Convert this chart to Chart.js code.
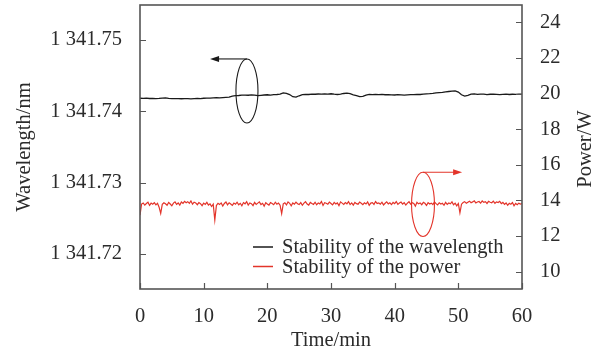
<!DOCTYPE html>
<html lang="en">
<head>
<meta charset="UTF-8">
<title>Stability of the wavelength and power</title>
<script src="https://cdn.jsdelivr.net/npm/chart.js"></script>
<style>
html, body {margin: 0; padding: 0; background: #fff;}
#wrap {width: 604px; height: 361px;}
</style>
</head>
<body>
<div id="wrap"><canvas id="chart" width="604" height="361"></canvas></div>
<script>
// --- data ---
const timeTicks = [0, 10, 20, 30, 40, 50, 60];
const wavelengthTicks = [1341.72, 1341.73, 1341.74, 1341.75];
const powerTicks = [10, 12, 14, 16, 18, 20, 22, 24];

// wavelength sampled every 0.5 min
const wavelengthStep = 0.5;
const wavelength = [
  1341.74183, 1341.74181, 1341.74184, 1341.74180, 1341.74182, 1341.74179, 1341.74181, 1341.74186, 1341.74188, 1341.74181,
  1341.74178, 1341.74177, 1341.74179, 1341.74176, 1341.74178, 1341.74177, 1341.74175, 1341.74178, 1341.74180, 1341.74179,
  1341.74183, 1341.74185, 1341.74184, 1341.74188, 1341.74190, 1341.74189, 1341.74193, 1341.74196, 1341.74199, 1341.74213,
  1341.74219, 1341.74222, 1341.74226, 1341.74228, 1341.74225, 1341.74230, 1341.74227, 1341.74219, 1341.74224, 1341.74229,
  1341.74232, 1341.74227, 1341.74233, 1341.74236, 1341.74240, 1341.74258, 1341.74252, 1341.74235, 1341.74205, 1341.74198,
  1341.74218, 1341.74234, 1341.74238, 1341.74236, 1341.74241, 1341.74239, 1341.74243, 1341.74240, 1341.74244, 1341.74242,
  1341.74246, 1341.74240, 1341.74236, 1341.74242, 1341.74250, 1341.74254, 1341.74248, 1341.74232, 1341.74220, 1341.74206,
  1341.74210, 1341.74228, 1341.74236, 1341.74233, 1341.74238, 1341.74234, 1341.74237, 1341.74232, 1341.74235, 1341.74231,
  1341.74229, 1341.74233, 1341.74230, 1341.74226, 1341.74231, 1341.74235, 1341.74233, 1341.74238, 1341.74236, 1341.74241,
  1341.74245, 1341.74248, 1341.74252, 1341.74258, 1341.74262, 1341.74266, 1341.74272, 1341.74278, 1341.74282, 1341.74286,
  1341.74270, 1341.74232, 1341.74214, 1341.74225, 1341.74240, 1341.74244, 1341.74238, 1341.74242, 1341.74240, 1341.74235,
  1341.74239, 1341.74241, 1341.74237, 1341.74233, 1341.74238, 1341.74241, 1341.74236, 1341.74239, 1341.74237, 1341.74242,
  1341.74240
];

// power sampled every 0.25 min
const powerStep = 0.25;
const power = [
  13.18, 13.80, 13.86, 13.74, 13.83, 13.90, 13.72, 13.85, 13.79, 13.88,
  13.75, 13.84, 13.62, 13.27, 13.78, 13.87, 13.81, 13.73, 13.89, 13.80,
  13.70, 13.85, 13.92, 13.78, 13.86, 13.74, 13.91, 13.83, 13.95, 13.87,
  13.93, 13.84, 13.97, 13.79, 13.90, 13.86, 13.76, 13.88, 13.82, 13.71,
  13.85, 13.78, 13.89, 13.74, 13.81, 13.66, 13.79, 12.90, 13.72, 13.84,
  13.77, 13.86, 13.69, 13.83, 13.91, 13.75, 13.87, 13.80, 13.72, 13.85,
  13.79, 13.90, 13.76, 13.84, 13.70, 13.88, 13.81, 13.93, 13.74, 13.86,
  13.82, 13.71, 13.89, 13.78, 13.85, 13.92, 13.77, 13.84, 13.68, 13.87,
  13.80, 13.74, 13.88, 13.83, 13.76, 13.90, 13.79, 13.85, 13.73, 13.26,
  13.81, 13.87, 13.75, 13.92, 13.84, 13.70, 13.86, 13.79, 13.91, 13.82,
  13.77, 13.88, 13.73, 13.85, 13.93, 13.80, 13.74, 13.89, 13.83, 13.78,
  13.90, 13.76, 13.86, 13.81, 13.94, 13.72, 13.87, 13.84, 13.79, 13.91,
  13.83, 13.75, 13.89, 13.80, 13.86, 13.71, 13.92, 13.85, 13.78, 13.88,
  13.81, 13.93, 13.77, 13.86, 13.74, 13.89, 13.82, 13.79, 13.91, 13.84,
  13.76, 13.87, 13.80, 13.92, 13.73, 13.85, 13.88, 13.78, 13.94, 13.83,
  13.86, 13.79, 13.90, 13.75, 13.84, 13.92, 13.81, 13.87, 13.77, 13.89,
  13.82, 13.94, 13.78, 13.86, 13.91, 13.80, 13.88, 13.74, 13.85, 13.93,
  13.79, 13.87, 13.83, 13.68, 13.90, 13.81, 13.86, 13.76, 13.89, 13.84,
  13.72, 13.88, 13.80, 13.85, 13.77, 13.91, 13.82, 13.75, 13.87, 13.80,
  13.84, 13.73, 13.89, 13.78, 13.86, 13.81, 13.92, 13.76, 13.85, 13.70,
  13.83, 13.31, 13.79, 13.88, 13.93, 13.84, 13.90, 13.96, 13.87, 13.92,
  13.98, 13.86, 13.91, 13.94, 13.85, 13.97, 13.89, 13.93, 13.83, 13.95,
  13.90, 13.87, 13.96, 13.84, 13.92, 13.88, 13.95, 13.82, 13.89, 13.78,
  13.86, 13.73, 13.84, 13.79, 13.88, 13.70, 13.83, 13.76, 13.85, 13.80,
  13.82
];

// ellipse + arrow annotations (data units)
const markers = [
  {axis: 'y',  t: 16.8,  v: 1341.74285, dt: 1.73, dv: 0.00449, arrowTo: 11.0, color: '#1a1a1a'},
  {axis: 'y1', t: 44.45, v: 13.78,      dt: 1.8,  dv: 1.8,     arrowTo: 50.6, color: '#e3342a'}
];

const black = '#1a1a1a';
const red = '#e3342a';
const frameColor = '#555';
const textColor = '#2b2b2b';
const fontFamily = '"Liberation Serif", "Times New Roman", serif';
const fontSize = 20.5;

Chart.defaults.font.family = fontFamily;
Chart.defaults.font.size = fontSize;
Chart.defaults.color = textColor;

function fmtWave(value) {
    const s = value.toFixed(2);
    return s[0] + ' ' + s.slice(1);
}

function noPad(s) {
    s.paddingTop = 0; s.paddingBottom = 0;
    s.paddingLeft = 0; s.paddingRight = 0;
}

const decor = {
    id: 'decor',
    afterDatasetsDraw(chart) {
        const {ctx, chartArea: a, scales} = chart;
        const x = scales.x, yl = scales.y, yr = scales.y1;
        ctx.save();

        // inner tick marks
        ctx.strokeStyle = frameColor;
        ctx.lineWidth = 1.2;
        ctx.beginPath();
        timeTicks.forEach(v => {
            const px = Math.round(x.getPixelForValue(v)) + 0.5;
            ctx.moveTo(px, a.bottom); ctx.lineTo(px, a.bottom - 6);
        });
        wavelengthTicks.forEach(v => {
            const py = Math.round(yl.getPixelForValue(v)) + 0.5;
            ctx.moveTo(a.left, py); ctx.lineTo(a.left + 6, py);
        });
        powerTicks.forEach(v => {
            const py = Math.round(yr.getPixelForValue(v)) + 0.5;
            ctx.moveTo(a.right, py); ctx.lineTo(a.right - 6, py);
        });
        ctx.stroke();

        // frame
        ctx.lineWidth = 1.6;
        ctx.strokeRect(a.left, a.top, a.right - a.left, a.bottom - a.top);

        // ellipses and arrows
        markers.forEach(m => {
            const sy = scales[m.axis];
            const cx = x.getPixelForValue(m.t), cy = sy.getPixelForValue(m.v);
            const rx = Math.abs(x.getPixelForValue(m.t + m.dt) - cx);
            const ry = Math.abs(sy.getPixelForValue(m.v + m.dv) - cy);
            ctx.strokeStyle = m.color;
            ctx.fillStyle = m.color;
            ctx.lineWidth = 1.1;
            ctx.beginPath();
            ctx.ellipse(cx, cy, rx, ry, 0, 0, Math.PI * 2);
            ctx.stroke();
            const tx = x.getPixelForValue(m.arrowTo), ty = cy - ry;
            const dir = Math.sign(tx - cx);
            ctx.beginPath();
            ctx.moveTo(cx, ty); ctx.lineTo(tx - dir * 6, ty);
            ctx.stroke();
            ctx.beginPath();
            ctx.moveTo(tx, ty);
            ctx.lineTo(tx - dir * 9, ty - 3);
            ctx.lineTo(tx - dir * 9, ty + 3);
            ctx.closePath();
            ctx.fill();
        });

        // legend inside the plot
        ctx.font = fontSize + 'px ' + fontFamily;
        ctx.textBaseline = 'middle';
        ctx.textAlign = 'left';
        const lx = a.left + 113;
        const rows = [a.bottom - 42, a.bottom - 22.5];
        chart.data.datasets.forEach((ds, i) => {
            ctx.strokeStyle = ds.borderColor;
            ctx.lineWidth = 1.5;
            ctx.beginPath();
            ctx.moveTo(lx, rows[i]); ctx.lineTo(lx + 20, rows[i]);
            ctx.stroke();
            ctx.fillStyle = textColor;
            ctx.fillText(ds.label, lx + 29, rows[i] + 1);
        });

        // right axis title, reading bottom to top
        ctx.translate(585.5, (a.top + a.bottom) / 2 + 2);
        ctx.rotate(-Math.PI / 2);
        ctx.textAlign = 'center';
        ctx.fillText('Power/W', 0, 0);

        ctx.restore();
    }
};

new Chart(document.getElementById('chart').getContext('2d'), {
    type: 'line',
    data: {
        datasets: [{
            label: 'Stability of the wavelength',
            data: wavelength.map((v, i) => ({x: i * wavelengthStep, y: v})),
            yAxisID: 'y',
            borderColor: black,
            borderWidth: 1.3,
            pointRadius: 0,
            tension: 0
        }, {
            label: 'Stability of the power',
            data: power.map((v, i) => ({x: i * powerStep, y: v})),
            yAxisID: 'y1',
            borderColor: red,
            borderWidth: 1.2,
            pointRadius: 0,
            tension: 0
        }]
    },
    options: {
        responsive: false,
        animation: false,
        devicePixelRatio: 1,
        layout: { padding: { top: 5, left: 0, right: 0, bottom: 0 } },
        plugins: {
            legend: { display: false },
            tooltip: { enabled: false }
        },
        scales: {
            x: {
                type: 'linear',
                min: 0, max: 60,
                grid: { display: false },
                border: { display: false },
                afterBuildTicks: s => { s.ticks = timeTicks.map(v => ({value: v})); },
                ticks: { padding: 7, maxRotation: 0 },
                title: { display: true, text: 'Time/min', padding: { top: 0, bottom: 8 } },
                afterFit: s => { s.height = 72; noPad(s); }
            },
            y: {
                position: 'left',
                min: 1341.7151, max: 1341.7549,
                grid: { display: false },
                border: { display: false },
                afterBuildTicks: s => { s.ticks = wavelengthTicks.map(v => ({value: v})); },
                ticks: { padding: 10, callback: v => fmtWave(v) },
                title: { display: true, text: 'Wavelength/nm', padding: { top: 12, bottom: 0 } },
                afterFit: s => { s.width = 140; noPad(s); }
            },
            y1: {
                position: 'right',
                min: 9.03, max: 24.97,
                grid: { display: false },
                border: { display: false },
                afterBuildTicks: s => { s.ticks = powerTicks.map(v => ({value: v})); },
                ticks: { padding: 10 },
                afterFit: s => { s.width = 82; noPad(s); }
            }
        }
    },
    plugins: [decor]
});
</script>
</body>
</html>
